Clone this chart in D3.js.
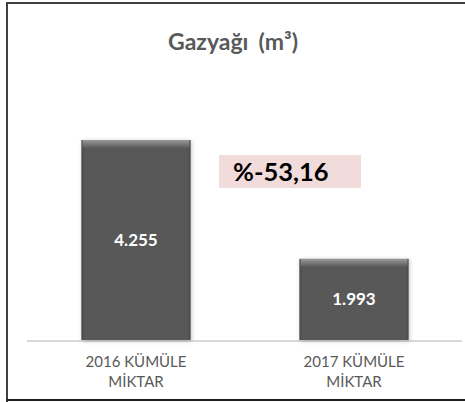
<!DOCTYPE html>
<html><head><meta charset="utf-8">
<script src="https://cdn.jsdelivr.net/npm/d3@7"></script>
<style>html,body{margin:0;padding:0;background:#fff;}svg{display:block;}</style>
</head><body>
<script>
const categories = ["2016 KÜMÜLE\nMİKTAR", "2017 KÜMÜLE\nMİKTAR"];
const values = [4255, 1993];
const valueLabels = ["4.255", "1.993"];
const titleMain = "Gazyağı";
const titleUnit = "(m³)";
const changeLabel = "%-53,16";

const W = 465, H = 402;
const svg = d3.select("body").append("svg").attr("width", W).attr("height", H);
const font = "Lato, 'Open Sans', sans-serif";

// outer border
svg.append("path").attr("d", `M7,${H+5} L7,3 L${W+5},3`).attr("fill","none").attr("stroke","#404040").attr("stroke-width",2);
svg.append("line").attr("x1",7).attr("x2",W+5).attr("y1",400).attr("y2",400).attr("stroke","#1a1a1a").attr("stroke-width",2);

const defs = svg.append("defs");
const gv = defs.append("linearGradient").attr("id","gv").attr("x1",0).attr("x2",0).attr("y1",0).attr("y2",1);
gv.append("stop").attr("offset",0).attr("stop-color","#9a9a9a");
gv.append("stop").attr("offset",1).attr("stop-color","#595959");
const gh = defs.append("linearGradient").attr("id","gh").attr("x1",0).attr("x2",1).attr("y1",0).attr("y2",0);
gh.append("stop").attr("offset",0).attr("stop-color","#3a3a3a").attr("stop-opacity",0.6);
gh.append("stop").attr("offset",0.04).attr("stop-color","#595959").attr("stop-opacity",0);
gh.append("stop").attr("offset",0.96).attr("stop-color","#595959").attr("stop-opacity",0);
gh.append("stop").attr("offset",1).attr("stop-color","#3a3a3a").attr("stop-opacity",0.6);
const flt = defs.append("filter").attr("id","sh").attr("x","-20%").attr("y","-20%").attr("width","140%").attr("height","140%");
flt.append("feDropShadow").attr("dx",1).attr("dy",1).attr("stdDeviation",2).attr("flood-color","#000").attr("flood-opacity",0.25);

const x = d3.scaleBand().domain(categories).range([27, 463]).paddingInner(0.5).paddingOuter(0.25);
const y = d3.scaleLinear().domain([450, 4255]).range([340, 140]);

// title
const tt = svg.append("text").attr("x", 233).attr("y", 50).attr("text-anchor","middle")
  .attr("font-family", font).attr("font-weight","bold").attr("font-size",23).attr("fill","#595959");
tt.append("tspan").text(titleMain);
tt.append("tspan").attr("dx", 10).text(titleUnit);

// axis line
svg.append("line").attr("x1",27).attr("x2",462).attr("y1",y(450)+1).attr("y2",y(450)+1).attr("stroke","#d9d9d9").attr("stroke-width",2);

const g = svg.append("g").selectAll("g").data(values).join("g");
g.append("rect").attr("x",(d,i)=>x(categories[i])).attr("y",d=>y(d)).attr("width",x.bandwidth()).attr("height",d=>y(450)-y(d))
  .attr("fill","#595959").attr("filter","url(#sh)");
g.append("rect").attr("x",(d,i)=>x(categories[i])).attr("y",d=>y(d)).attr("width",x.bandwidth()).attr("height",d=>y(450)-y(d))
  .attr("fill","url(#gh)");
g.append("rect").attr("x",(d,i)=>x(categories[i])+1).attr("y",d=>y(d)).attr("width",x.bandwidth()-2).attr("height",8)
  .attr("fill","url(#gv)");
g.append("text").attr("x",(d,i)=>x(categories[i])+x.bandwidth()/2).attr("y",d=>(y(d)+y(450))/2+6)
  .attr("text-anchor","middle").attr("font-family",font).attr("font-weight","bold").attr("font-size",17).attr("fill","#fff")
  .text((d,i)=>valueLabels[i]);

// category labels
categories.forEach(c=>{
  const t = svg.append("text").attr("text-anchor","middle").attr("font-family",font).attr("font-size",15).attr("fill","#595959");
  c.split("\n").forEach((line,k)=>{
    t.append("tspan").attr("x", x(c)+x.bandwidth()/2).attr("y", 367 + k*20).text(line);
  });
});

// change box
svg.append("rect").attr("x",219).attr("y",155).attr("width",142).attr("height",33).attr("fill","#f2dcdb");
svg.append("text").attr("x",233).attr("y",181).attr("font-family",font).attr("font-weight","bold").attr("font-size",25.5).attr("fill","#000").text(changeLabel);
</script>
</body></html>
